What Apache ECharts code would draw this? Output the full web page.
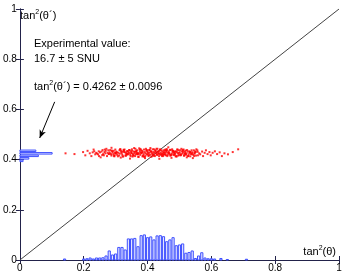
<!DOCTYPE html>
<html><head><meta charset="utf-8">
<script src="https://cdn.jsdelivr.net/npm/echarts@6/dist/echarts.min.js"></script>
<style>html,body{margin:0;padding:0;background:#fff}#c{width:346px;height:278px}</style>
</head><body><div id="c"></div>
<script>
// axis ticks
var xTicks = [0, 0.2, 0.4, 0.6, 0.8, 1];
var yTicks = [0, 0.2, 0.4, 0.6, 0.8, 1];
// bottom histogram of tan2(theta): bin centers and heights
var binCentersX = [0.14,0.20,0.21,0.22,0.23,0.24,0.25,0.26,0.27,0.28,0.29,0.30,0.31,0.32,0.33,0.34,0.35,0.36,0.37,0.38,0.39,0.40,0.41,0.42,0.43,0.44,0.45,0.46,0.47,0.48,0.49,0.50,0.51,0.52,0.53,0.54,0.55,0.56,0.57,0.58,0.59,0.60,0.61,0.63,0.65,0.71];
var binHeightsX = [0.004,0.004,0.005,0.008,0.004,0.008,0.008,0.009,0.016,0.036,0.020,0.024,0.050,0.050,0.040,0.084,0.084,0.086,0.053,0.097,0.100,0.089,0.092,0.080,0.096,0.097,0.093,0.073,0.080,0.089,0.057,0.060,0.064,0.027,0.030,0.036,0.006,0.016,0.029,0.008,0.005,0.005,0.004,0.006,0.002,0.003];
// left histogram of tan2(theta'): bin centers and lengths
var binCentersY = [0.435,0.425,0.415,0.405,0.395];
var binLengthsY = [0.050,0.101,0.058,0.028,0.010];
// scatter points
var scatterX = [0.251,0.263,0.277,0.284,0.296,0.302,0.315,0.321,0.333,0.347,0.352,0.368,0.374,0.386,0.391,0.405,0.412,0.427,0.433,0.448,0.456,0.462,0.479,0.485,0.497,0.503,0.518,0.526,0.534,0.547,0.553,
0.259,0.268,0.273,0.289,0.293,0.308,0.311,0.326,0.338,0.341,0.356,0.362,0.379,0.383,0.397,0.401,0.416,0.421,0.438,0.443,0.451,0.467,0.472,0.488,0.492,0.509,0.512,0.529,0.541,0.558,
0.245,0.256,0.281,0.299,0.305,0.318,0.331,0.344,0.359,0.365,0.371,0.389,0.394,0.408,0.419,0.424,0.436,0.441,0.453,0.459,0.474,0.482,0.495,0.506,0.515,0.522,0.538,0.544,0.551,
0.239,0.248,0.265,0.279,0.287,0.298,0.313,0.324,0.336,0.349,0.354,0.367,0.377,0.381,0.399,0.403,0.414,0.429,0.431,0.446,0.458,0.464,0.477,0.483,0.499,0.511,0.524,0.532,0.549,0.562,
0.271,0.283,0.291,0.317,0.329,0.339,0.351,0.363,0.376,0.388,0.395,0.409,0.418,0.432,0.439,0.449,0.461,0.469,0.481,0.493,0.501,0.517,0.528,0.536,
0.233,0.261,0.275,0.294,0.307,0.319,0.328,0.343,0.357,0.369,0.385,0.393,0.406,0.411,0.423,0.435,0.444,0.457,0.466,0.476,0.489,0.504,0.513,0.521,0.539,0.556,
0.286,0.301,0.312,0.334,0.348,0.361,0.373,0.398,0.415,0.426,0.447,0.463,0.478,0.496,0.508,0.531,0.546,
0.242,0.269,0.297,0.323,0.346,0.366,0.384,0.402,0.422,0.437,0.454,0.471,0.487,0.502,0.519,0.535,0.548,
0.143,0.171,0.198,0.205,0.212,0.219,0.224,0.228,0.231,0.236,0.565,0.571,0.574,0.579,0.583,0.588,0.594,0.598,0.604,0.611,0.618,0.626,0.633,0.641,0.652,0.667,0.684,
0.345,0.392,0.437,0.475,0.316,0.523,0.287,0.358,0.465,0.409,0.253,0.542,
0.247,0.258,0.266,0.278,0.288,0.295,0.304,0.314,0.322,0.327,0.335,0.342,0.350,0.355,0.364,0.370,0.378,0.382,0.387,0.396,
0.400,0.407,0.413,0.417,0.425,0.430,0.434,0.440,0.445,0.450,0.455,0.460,0.468,0.473,0.480,0.486,0.491,0.498,0.505,0.510,
0.516,0.520,0.527,0.533,0.540,0.545,0.552,0.557,0.300,0.332,0.360,0.375,0.390,0.420,0.442,0.452,0.470,0.484,0.494,0.514,
0.337,0.353,0.380,0.404,0.428,0.450,0.458,0.490,0.325,0.372];
var scatterY = [0.429,0.417,0.437,0.424,0.413,0.432,0.441,0.419,0.427,0.414,0.435,0.422,0.445,0.416,0.430,0.438,0.411,0.425,0.433,0.419,0.440,0.414,0.429,0.422,0.437,0.417,0.427,0.432,0.413,0.424,0.441,
0.438,0.425,0.414,0.433,0.422,0.427,0.416,0.437,0.424,0.430,0.417,0.443,0.427,0.435,0.421,0.429,0.441,0.417,0.422,0.437,0.429,0.425,0.438,0.413,0.430,0.424,0.435,0.421,0.429,0.417,
0.421,0.432,0.429,0.440,0.419,0.430,0.417,0.438,0.425,0.430,0.411,0.440,0.425,0.419,0.430,0.437,0.414,0.427,0.422,0.432,0.419,0.433,0.425,0.443,0.416,0.425,0.437,0.419,0.430,
0.427,0.414,0.430,0.422,0.416,0.427,0.424,0.413,0.433,0.427,0.422,0.437,0.419,0.425,0.433,0.414,0.425,0.421,0.443,0.432,0.417,0.427,0.441,0.427,0.419,0.429,0.438,0.427,0.433,0.425,
0.443,0.438,0.429,0.435,0.429,0.421,0.441,0.421,0.432,0.422,0.443,0.432,0.422,0.429,0.440,0.414,0.437,0.422,0.419,0.440,0.429,0.432,0.414,0.422,
0.433,0.422,0.427,0.435,0.413,0.425,0.440,0.425,0.432,0.427,0.430,0.414,0.427,0.433,0.414,0.425,0.422,0.427,0.433,0.424,0.433,0.422,0.440,0.419,0.425,0.437,
0.421,0.424,0.437,0.422,0.433,0.414,0.425,0.438,0.419,0.432,0.425,0.419,0.435,0.416,0.433,0.433,0.414,
0.424,0.435,0.417,0.432,0.419,0.424,0.413,0.424,0.427,0.433,0.437,0.416,0.424,0.437,0.422,0.430,0.427,
0.425,0.422,0.430,0.417,0.435,0.425,0.414,0.429,0.440,0.421,0.421,0.432,0.414,0.427,0.437,0.422,0.430,0.417,0.427,0.433,0.422,0.429,0.414,0.425,0.421,0.430,0.441,
0.404,0.406,0.403,0.407,0.408,0.409,0.447,0.446,0.449,0.446,0.409,0.406,
0.433,0.418,0.440,0.423,0.436,0.415,0.429,0.441,0.412,0.431,0.420,0.438,0.426,0.416,0.434,0.421,0.442,0.428,0.413,0.436,
0.420,0.439,0.431,0.415,0.435,0.418,0.423,0.440,0.414,0.437,0.420,0.442,0.428,0.417,0.435,0.431,0.412,0.426,0.418,0.439,
0.423,0.436,0.414,0.430,0.421,0.437,0.416,0.431,0.426,0.415,0.431,0.439,0.411,0.441,0.419,0.429,0.439,0.418,0.440,0.416,
0.434,0.412,0.437,0.417,0.443,0.421,0.436,0.414,0.439,0.411];
// diagonal
var diagX = [0, 1];
var diagY = [0, 1];

var FONT = 'Liberation Sans, Arial, sans-serif';
var binW = 0.01;
var histX = binCentersX.map(function(c,i){return [c-binW/2, c+binW/2, binHeightsX[i]];});
var histY = binCentersY.map(function(c,i){return [c-binW/2, c+binW/2, binLengthsY[i]];});
var pts = scatterX.map(function(x,i){return [x, scatterY[i]];});
var diag = diagX.map(function(x,i){return [x, diagY[i]];});

var axisColor = '#22224a';
var tickStyle = {show:true, inside:true, length:4, lineStyle:{color:axisColor}};
function axisBase(extra){
  var a = {type:'value', min:0, max:1, interval:0.2, axisLine:{show:true, lineStyle:{color:axisColor, width:1}},
    axisTick:tickStyle, splitLine:{show:false}, axisLabel:{show:true, color:'#000', fontFamily:FONT, fontSize:10, margin:3}};
  for (var k in extra) a[k]=extra[k];
  return a;
}
var texLabel = {
  a:{fontFamily:FONT, fontSize:11, color:'#000'},
  s:{fontFamily:FONT, fontSize:7, color:'#000', verticalAlign:'top', padding:[0,0,6,0]}
};
var chart = echarts.init(document.getElementById('c'));
chart.setOption({
  animation:false,
  grid:{left:17, right:7, top:9, bottom:18},
  xAxis:[axisBase({position:'bottom'}), axisBase({position:'top', axisLabel:{show:false}})],
  yAxis:[axisBase({position:'left'}), axisBase({position:'right', axisLabel:{show:false}})],
  series:[
    {type:'custom', xAxisIndex:0, yAxisIndex:0, data:histX, encode:{x:[0,1], y:2}, z:2,
     renderItem:function(p, api){
       var a=api.coord([api.value(0),0]), b=api.coord([api.value(1),api.value(2)]);
       return {type:'rect', shape:{x:a[0]+0.5, y:b[1], width:b[0]-a[0]-1, height:a[1]-b[1]},
         style:{fill:'#e4e6ff', stroke:'#3f50ff', lineWidth:1}};
     }},
    {type:'custom', xAxisIndex:0, yAxisIndex:0, data:histY, encode:{x:2, y:[0,1]}, z:2,
     renderItem:function(p, api){
       var a=api.coord([0,api.value(0)]), b=api.coord([api.value(2),api.value(1)]);
       return {type:'rect', shape:{x:a[0], y:b[1]+0.5, width:b[0]-a[0], height:a[1]-b[1]-1},
         style:{fill:'#e4e6ff', stroke:'#3f50ff', lineWidth:1}};
     }},
    {type:'line', data:diag, symbol:'none', z:3, lineStyle:{color:'#444', width:1}, silent:true,
     markLine:{silent:true, symbol:['none','arrow'], symbolSize:[5,8], label:{show:false},
       lineStyle:{color:'#000', width:1, type:'solid'},
       data:[[{coord:[0.109,0.63]},{coord:[0.062,0.486]}]]}},
    {type:'scatter', data:pts, symbol:'rect', symbolSize:2, z:4, itemStyle:{color:'#ff0000'}, silent:true}
  ],
  graphic:[
    {type:'text', left:20, top:9, style:{rich:texLabel, text:'{a|tan}{s|2}{a|(θ´)}'}},
    {type:'text', left:34, top:38, style:{text:'Experimental value:', font:'11px '+FONT, fill:'#000'}},
    {type:'text', left:34, top:53, style:{text:'16.7 ± 5 SNU', font:'11px '+FONT, fill:'#000'}},
    {type:'text', left:34, top:80, style:{rich:texLabel, text:'{a|tan}{s|2}{a|(θ´) = 0.4262 ± 0.0096}'}},
    {type:'text', right:10, top:245, style:{rich:texLabel, text:'{a|tan}{s|2}{a|(θ)}'}}
  ]
});
</script></body></html>
